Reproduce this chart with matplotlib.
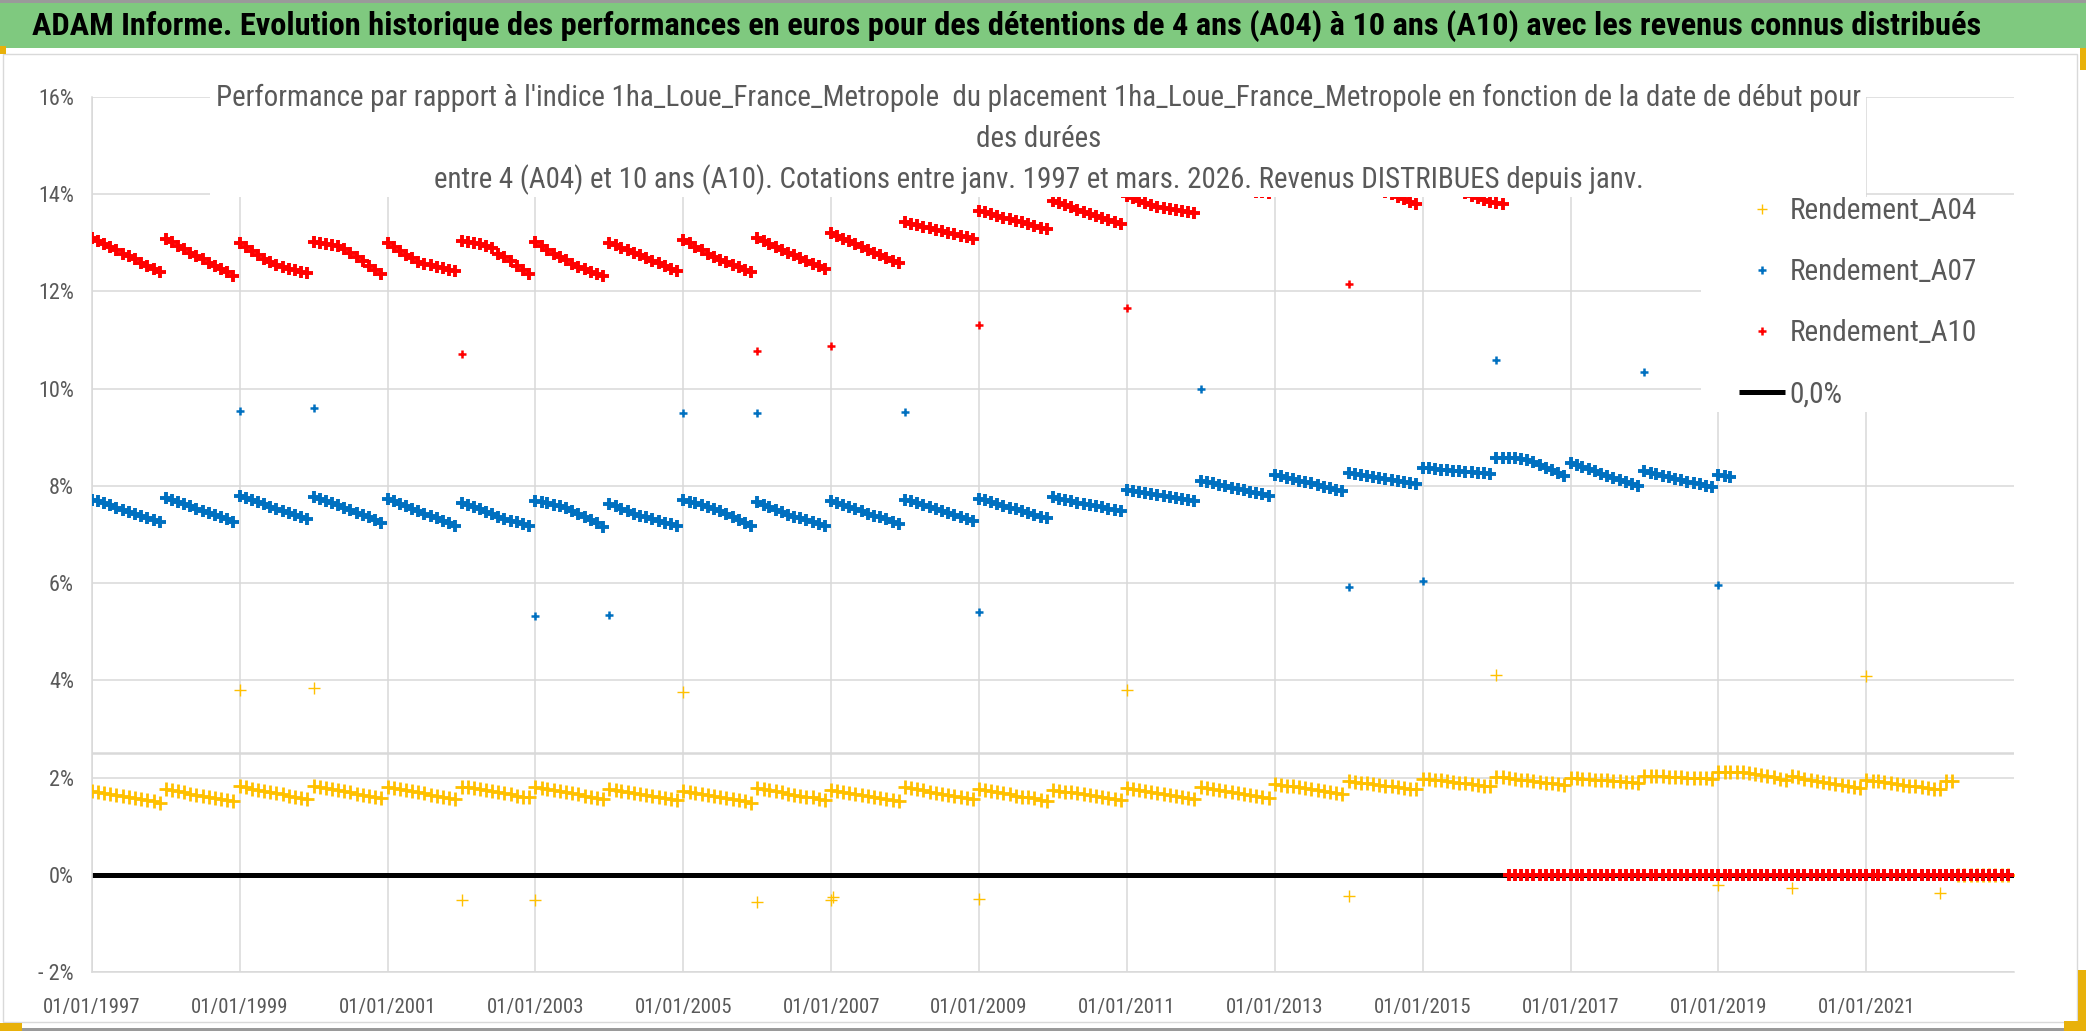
import numpy as np
import pandas as pd
import matplotlib
matplotlib.use('Agg')
import matplotlib.pyplot as plt
import matplotlib.dates as mdates
from matplotlib import font_manager
from matplotlib.lines import Line2D
from matplotlib.patches import Rectangle

W, H = 2086, 1031

main_title = ("ADAM Informe. Evolution historique des performances en euros pour des détentions "
              "de 4 ans (A04) à 10 ans (A10) avec les revenus connus distribués")
chart_title = ["Performance par rapport à l'indice 1ha_Loue_France_Metropole  du placement "
               "1ha_Loue_France_Metropole en fonction de la date de début pour",
               "des durées",
               "entre 4 (A04) et 10 ans (A10). Cotations entre janv. 1997 et mars. 2026. "
               "Revenus DISTRIBUES depuis janv."]
series_names = ["Rendement_A04", "Rendement_A07", "Rendement_A10", "0,0%"]

# monthly values (%) from jan. 1997 to dec. 2022, one row per year
a04_rows = [
    [1.73, 1.71, 1.69, 1.66, 1.64, 1.62, 1.60, 1.58, 1.55, 1.53, 1.51, 1.48],
    [1.76, 1.74, 1.72, 1.70, 1.67, 1.65, 1.63, 1.60, 1.58, 1.56, 1.53, 1.51],
    [1.82, 1.80, 1.77, 1.75, 1.73, 1.70, 1.68, 1.66, 1.63, 1.61, 1.58, 1.56],
    [1.83, 1.81, 1.79, 1.77, 1.74, 1.72, 1.70, 1.67, 1.65, 1.62, 1.60, 1.57],
    [1.81, 1.79, 1.77, 1.75, 1.72, 1.70, 1.68, 1.65, 1.63, 1.61, 1.58, 1.56],
    [1.81, 1.80, 1.78, 1.77, 1.75, 1.73, 1.70, 1.68, 1.66, 1.63, 1.61, 1.59],
    [1.81, 1.79, 1.77, 1.75, 1.73, 1.70, 1.68, 1.66, 1.63, 1.61, 1.58, 1.56],
    [1.77, 1.75, 1.73, 1.71, 1.69, 1.67, 1.64, 1.62, 1.60, 1.58, 1.55, 1.53],
    [1.73, 1.71, 1.69, 1.67, 1.64, 1.62, 1.60, 1.57, 1.55, 1.53, 1.51, 1.48],
    [1.78, 1.76, 1.74, 1.72, 1.70, 1.67, 1.65, 1.63, 1.61, 1.59, 1.56, 1.54],
    [1.75, 1.73, 1.71, 1.69, 1.67, 1.64, 1.62, 1.60, 1.58, 1.56, 1.53, 1.51],
    [1.80, 1.78, 1.76, 1.74, 1.71, 1.69, 1.67, 1.64, 1.62, 1.60, 1.57, 1.55],
    [1.76, 1.74, 1.72, 1.70, 1.68, 1.66, 1.63, 1.61, 1.59, 1.57, 1.54, 1.52],
    [1.75, 1.73, 1.71, 1.70, 1.68, 1.66, 1.64, 1.62, 1.60, 1.58, 1.56, 1.54],
    [1.78, 1.76, 1.74, 1.72, 1.70, 1.68, 1.66, 1.64, 1.62, 1.60, 1.57, 1.55],
    [1.80, 1.78, 1.76, 1.74, 1.72, 1.70, 1.68, 1.66, 1.64, 1.62, 1.60, 1.58],
    [1.87, 1.85, 1.83, 1.82, 1.80, 1.78, 1.76, 1.74, 1.73, 1.71, 1.69, 1.67],
    [1.92, 1.91, 1.89, 1.88, 1.86, 1.85, 1.83, 1.82, 1.80, 1.79, 1.77, 1.76],
    [1.98, 1.97, 1.95, 1.94, 1.92, 1.91, 1.89, 1.88, 1.86, 1.85, 1.83, 1.82],
    [2.02, 2.01, 1.99, 1.97, 1.96, 1.94, 1.93, 1.91, 1.89, 1.88, 1.86, 1.85],
    [2.00, 1.99, 1.98, 1.97, 1.96, 1.95, 1.94, 1.93, 1.92, 1.91, 1.90, 1.89],
    [2.04, 2.04, 2.03, 2.03, 2.02, 2.01, 2.01, 2.00, 2.00, 1.99, 1.99, 1.98],
    [2.12, 2.12, 2.12, 2.11, 2.11, 2.10, 2.08, 2.06, 2.03, 2.01, 1.98, 1.96],
    [2.03, 2.01, 1.98, 1.96, 1.93, 1.91, 1.89, 1.86, 1.84, 1.82, 1.80, 1.78],
    [1.95, 1.93, 1.92, 1.90, 1.88, 1.87, 1.85, 1.83, 1.82, 1.80, 1.78, 1.77],
    [1.76, 1.92, 1.92, 0, 0, 0, 0, 0, 0, 0, 0, 0],
]
a07_rows = [
    [7.72, 7.68, 7.64, 7.60, 7.55, 7.51, 7.47, 7.42, 7.38, 7.34, 7.29, 7.25],
    [7.75, 7.71, 7.66, 7.62, 7.58, 7.53, 7.49, 7.44, 7.40, 7.35, 7.31, 7.26],
    [7.79, 7.75, 7.71, 7.66, 7.62, 7.57, 7.53, 7.49, 7.44, 7.40, 7.35, 7.31],
    [7.77, 7.73, 7.69, 7.65, 7.60, 7.55, 7.50, 7.45, 7.40, 7.35, 7.29, 7.23],
    [7.73, 7.68, 7.63, 7.58, 7.53, 7.48, 7.43, 7.38, 7.33, 7.28, 7.23, 7.18],
    [7.65, 7.61, 7.56, 7.52, 7.47, 7.42, 7.37, 7.32, 7.28, 7.25, 7.21, 7.18],
    [7.68, 7.66, 7.64, 7.61, 7.58, 7.54, 7.49, 7.43, 7.37, 7.30, 7.23, 7.16],
    [7.63, 7.58, 7.53, 7.48, 7.43, 7.39, 7.35, 7.31, 7.28, 7.24, 7.21, 7.18],
    [7.70, 7.67, 7.64, 7.61, 7.57, 7.53, 7.48, 7.42, 7.36, 7.30, 7.24, 7.18],
    [7.66, 7.61, 7.56, 7.51, 7.46, 7.41, 7.37, 7.33, 7.29, 7.25, 7.21, 7.18],
    [7.68, 7.64, 7.60, 7.56, 7.52, 7.48, 7.43, 7.39, 7.35, 7.31, 7.26, 7.22],
    [7.72, 7.68, 7.64, 7.60, 7.56, 7.52, 7.48, 7.44, 7.40, 7.35, 7.31, 7.27],
    [7.73, 7.70, 7.66, 7.63, 7.59, 7.55, 7.52, 7.48, 7.44, 7.41, 7.37, 7.33],
    [7.77, 7.74, 7.71, 7.68, 7.65, 7.63, 7.60, 7.58, 7.56, 7.53, 7.51, 7.48],
    [7.92, 7.90, 7.88, 7.86, 7.84, 7.81, 7.79, 7.77, 7.75, 7.73, 7.70, 7.68],
    [8.10, 8.07, 8.05, 8.02, 7.99, 7.96, 7.94, 7.91, 7.88, 7.86, 7.83, 7.80],
    [8.23, 8.20, 8.17, 8.14, 8.11, 8.08, 8.05, 8.02, 7.98, 7.95, 7.92, 7.89],
    [8.27, 8.25, 8.23, 8.21, 8.18, 8.16, 8.14, 8.12, 8.10, 8.08, 8.05, 8.03],
    [8.37, 8.36, 8.35, 8.33, 8.32, 8.31, 8.30, 8.29, 8.28, 8.27, 8.26, 8.25],
    [8.58, 8.58, 8.57, 8.57, 8.56, 8.54, 8.49, 8.43, 8.37, 8.32, 8.26, 8.20],
    [8.47, 8.43, 8.39, 8.34, 8.30, 8.25, 8.21, 8.17, 8.13, 8.09, 8.04, 8.00],
    [8.30, 8.27, 8.24, 8.21, 8.18, 8.15, 8.12, 8.09, 8.06, 8.03, 8.00, 7.97],
    [8.23, 8.20, 8.18, 0, 0, 0, 0, 0, 0, 0, 0, 0],
    [0, 0, 0, 0, 0, 0, 0, 0, 0, 0, 0, 0],
    [0, 0, 0, 0, 0, 0, 0, 0, 0, 0, 0, 0],
    [0, 0, 0, 0, 0, 0, 0, 0, 0, 0, 0, 0],
]
a10_rows = [
    [13.10, 13.04, 12.98, 12.91, 12.85, 12.78, 12.72, 12.66, 12.59, 12.53, 12.47, 12.40],
    [13.07, 13.01, 12.94, 12.87, 12.80, 12.73, 12.66, 12.59, 12.52, 12.46, 12.39, 12.32],
    [13.00, 12.91, 12.83, 12.75, 12.67, 12.60, 12.55, 12.51, 12.47, 12.44, 12.40, 12.37],
    [13.02, 13.00, 12.98, 12.96, 12.93, 12.88, 12.80, 12.71, 12.62, 12.53, 12.44, 12.36],
    [13.00, 12.92, 12.84, 12.76, 12.68, 12.61, 12.57, 12.54, 12.51, 12.48, 12.45, 12.42],
    [13.04, 13.02, 12.99, 12.97, 12.94, 12.90, 12.78, 12.70, 12.62, 12.53, 12.45, 12.36],
    [13.02, 12.94, 12.86, 12.78, 12.71, 12.64, 12.57, 12.51, 12.46, 12.41, 12.36, 12.31],
    [13.00, 12.95, 12.90, 12.85, 12.79, 12.74, 12.68, 12.63, 12.58, 12.52, 12.47, 12.42],
    [13.06, 12.99, 12.92, 12.85, 12.78, 12.71, 12.65, 12.60, 12.55, 12.50, 12.45, 12.40],
    [13.10, 13.04, 12.98, 12.92, 12.86, 12.80, 12.74, 12.68, 12.63, 12.57, 12.52, 12.47],
    [13.20, 13.14, 13.08, 13.03, 12.97, 12.91, 12.86, 12.80, 12.74, 12.69, 12.63, 12.58],
    [13.42, 13.39, 13.36, 13.33, 13.30, 13.27, 13.24, 13.21, 13.18, 13.14, 13.11, 13.08],
    [13.66, 13.63, 13.59, 13.56, 13.52, 13.49, 13.45, 13.42, 13.38, 13.35, 13.31, 13.28],
    [13.86, 13.82, 13.77, 13.73, 13.68, 13.64, 13.60, 13.56, 13.51, 13.47, 13.43, 13.38],
    [13.96, 13.92, 13.87, 13.82, 13.78, 13.74, 13.71, 13.69, 13.67, 13.65, 13.63, 13.62],
    [14.25, 14.23, 14.20, 14.18, 14.15, 14.13, 14.10, 14.08, 14.06, 14.05, 14.04, 14.02],
    [14.45, 14.42, 14.39, 14.36, 14.33, 14.30, 14.27, 14.24, 14.21, 14.18, 14.15, 14.12],
    [14.35, 14.30, 14.25, 14.20, 14.15, 14.10, 14.05, 14.00, 13.95, 13.90, 13.85, 13.80],
    [14.40, 14.35, 14.30, 14.25, 14.20, 14.15, 14.08, 14.02, 13.97, 13.92, 13.88, 13.84],
    [13.82, 13.79, 0, 0, 0, 0, 0, 0, 0, 0, 0, 0],
    [0, 0, 0, 0, 0, 0, 0, 0, 0, 0, 0, 0],
    [0, 0, 0, 0, 0, 0, 0, 0, 0, 0, 0, 0],
    [0, 0, 0, 0, 0, 0, 0, 0, 0, 0, 0, 0],
    [0, 0, 0, 0, 0, 0, 0, 0, 0, 0, 0, 0],
    [0, 0, 0, 0, 0, 0, 0, 0, 0, 0, 0, 0],
    [0, 0, 0, 0, 0, 0, 0, 0, 0, 0, 0, 0],
]

# isolated points on coupon dates
a04_out_dates = ["1999-01-01", "2000-01-01", "2002-01-01", "2003-01-01", "2005-01-01",
                 "2006-01-01", "2007-01-01", "2007-01-08", "2009-01-01", "2011-01-01",
                 "2014-01-01", "2016-01-01", "2019-01-01", "2020-01-01", "2021-01-01",
                 "2022-01-01"]
a04_out = [3.80, 3.85, -0.51, -0.51, 3.75, -0.55, -0.52, -0.46, -0.50, 3.80,
           -0.43, 4.12, -0.22, -0.27, 4.09, -0.38]
a07_out_dates = ["1999-01-01", "2000-01-01", "2003-01-01", "2004-01-01", "2005-01-01",
                 "2006-01-01", "2008-01-01", "2009-01-01", "2012-01-01", "2014-01-01",
                 "2015-01-01", "2016-01-01", "2018-01-01", "2019-01-01"]
a07_out = [9.55, 9.60, 5.32, 5.35, 9.50, 9.50, 9.52, 5.40, 10.00, 5.93,
           6.04, 10.60, 10.35, 5.97]
a10_out_dates = ["2002-01-01", "2006-01-01", "2007-01-01", "2009-01-01", "2011-01-01",
                 "2014-01-01"]
a10_out = [10.72, 10.77, 10.88, 11.32, 11.66, 12.15]

zero_dates = ["1997-01-01", "2023-01-01"]
zero_vals = [0.0, 0.0]

y_ticks = [-2, 0, 2, 4, 6, 8, 10, 12, 14, 16]
y_tick_labels = ["- 2%", "0%", "2%", "4%", "6%", "8%", "10%", "12%", "14%", "16%"]
x_tick_years = list(range(1997, 2022, 2))
extra_line = 2.5

# fonts: prefer a narrow face, as in the source picture
names = {f.name for f in font_manager.fontManager.ttflist}
face = 'DejaVu Sans'
for cand in ['Liberation Sans Narrow', 'Roboto Condensed', 'Open Sans Condensed']:
    if cand in names:
        face = cand
        break
plt.rcParams['font.family'] = [face, 'DejaVu Sans']

GRAY_TXT = '#595959'
GRID = '#D9D9D9'
C04, C07, C10 = '#FFC000', '#0070C0', '#FF0000'

fig = plt.figure(figsize=(W / 100, H / 100), dpi=100)
fig.patch.set_facecolor('white')
renderer = fig.canvas.get_renderer()


def fx(x):
    return x / W


def fy(y):
    return 1 - y / H


def size_for(s, target_px, weight='normal', probe=20):
    t = fig.text(0, 0, s, fontsize=probe, fontweight=weight)
    w = t.get_window_extent(renderer=renderer).width
    t.remove()
    return probe * target_px / w


def box(x0, y0, x1, y1, **kw):
    r = Rectangle((fx(x0), fy(y1)), fx(x1) - fx(x0), (y1 - y0) / H,
                  transform=fig.transFigure, **kw)
    fig.add_artist(r)
    return r


months = pd.date_range("1997-01-01", periods=12 * len(a04_rows), freq="MS")
a04 = np.array(a04_rows).ravel()
a07 = np.array(a07_rows).ravel()
a10 = np.array(a10_rows).ravel()

ax = fig.add_axes([fx(92), fy(972), fx(2014) - fx(92), (972 - 97) / H])
ax.set_facecolor('white')

ax.plot(pd.to_datetime(zero_dates), zero_vals, color='black', lw=3.6,
        solid_capstyle='butt', zorder=2)
# dense monthly runs, drawn with fat markers so they read as a band
ax.plot(months, a04, ls='none', marker='+', ms=9.5, mew=2.0, color=C04, zorder=3)
ax.plot(months, a07, ls='none', marker='+', ms=8, mew=2.8, color=C07, zorder=4)
ax.plot(months, a10, ls='none', marker='+', ms=8, mew=2.8, color=C10, zorder=5)
ax.plot(pd.to_datetime(a04_out_dates), a04_out, ls='none', marker='+', ms=8, mew=1.0,
        color=C04, zorder=3)
ax.plot(pd.to_datetime(a07_out_dates), a07_out, ls='none', marker='+', ms=6, mew=1.8,
        color=C07, zorder=4)
ax.plot(pd.to_datetime(a10_out_dates), a10_out, ls='none', marker='+', ms=6, mew=1.8,
        color=C10, zorder=5)
ax.axhline(extra_line, color=GRID, lw=1.8, zorder=1)

ax.set_xlim(pd.Timestamp("1997-01-01"), pd.Timestamp("2023-01-01"))
ax.set_ylim(-2, 16)
ax.set_yticks(y_ticks)
ax.set_yticklabels(y_tick_labels)
ax.set_xticks([pd.Timestamp(year=y, month=1, day=1) for y in x_tick_years])
ax.xaxis.set_major_formatter(mdates.DateFormatter('%d/%m/%Y'))
ax.grid(True, color=GRID, lw=1.1, zorder=0)
ax.set_axisbelow(True)
for side in ['top', 'right']:
    ax.spines[side].set_visible(False)
for side in ['left', 'bottom']:
    ax.spines[side].set_color(GRID)
    ax.spines[side].set_linewidth(1.1)

xs = size_for('01/01/1997', 97)
ys = size_for('16%', 36)
ax.tick_params(axis='x', length=0, pad=19, labelsize=xs, labelcolor=GRAY_TXT)
ax.tick_params(axis='y', length=0, pad=13, labelsize=ys, labelcolor=GRAY_TXT)

# header bar and chart-area frame
box(0, 0, W, 3, color='#9a9a9a', lw=0)
box(0, 3, W, 48, color='#7FC97F', lw=0)
box(3, 54, 2077, 1022, fill=False, edgecolor=GRID, lw=1.0)
box(0, 1028, W, 1031, color='#9a9a9a', lw=0)
for x0, y0, x1, y1 in [(0, 46, 6, 54), (2080, 48, 2086, 70), (0, 1023, 22, 1031),
                       (2078, 970, 2086, 1031), (2064, 1021, 2086, 1031)]:
    box(x0, y0, x1, y1, color='#E8B10A', lw=0)

ts = size_for(main_title, 1949, weight='bold')
fig.text(fx(1007), fy(26), main_title, fontsize=ts, fontweight='bold', color='black',
         ha='center', va='center')

# chart title sits on a white box over the plot area
box(210, 86, 1866, 197, color='white', lw=0)
cs = size_for(chart_title[0], 1645)
for line, base in zip(chart_title, [106, 147, 188]):
    fig.text(fx(1039), fy(base), line, fontsize=cs, color=GRAY_TXT,
             ha='center', va='baseline')

# legend on its own white box
box(1701, 197, 2014, 412, color='white', lw=0)
ls = size_for('Rendement_A04', 188)
handles = [Line2D([], [], ls='none', marker='+', ms=7, mew=1.0, color=C04),
           Line2D([], [], ls='none', marker='+', ms=6, mew=1.8, color=C07),
           Line2D([], [], ls='none', marker='+', ms=6, mew=1.8, color=C10),
           Line2D([], [], color='black', lw=3.6, solid_capstyle='butt')]
fig.legend(handles, series_names, loc='upper left',
           bbox_to_anchor=(fx(1739), fy(197)), frameon=False, fontsize=ls,
           labelcolor=GRAY_TXT, borderaxespad=0, borderpad=0,
           handlelength=46 / (ls * 100 / 72), handletextpad=0.15, labelspacing=1.13)

fig.savefig('out.png', dpi=100, facecolor='white')
